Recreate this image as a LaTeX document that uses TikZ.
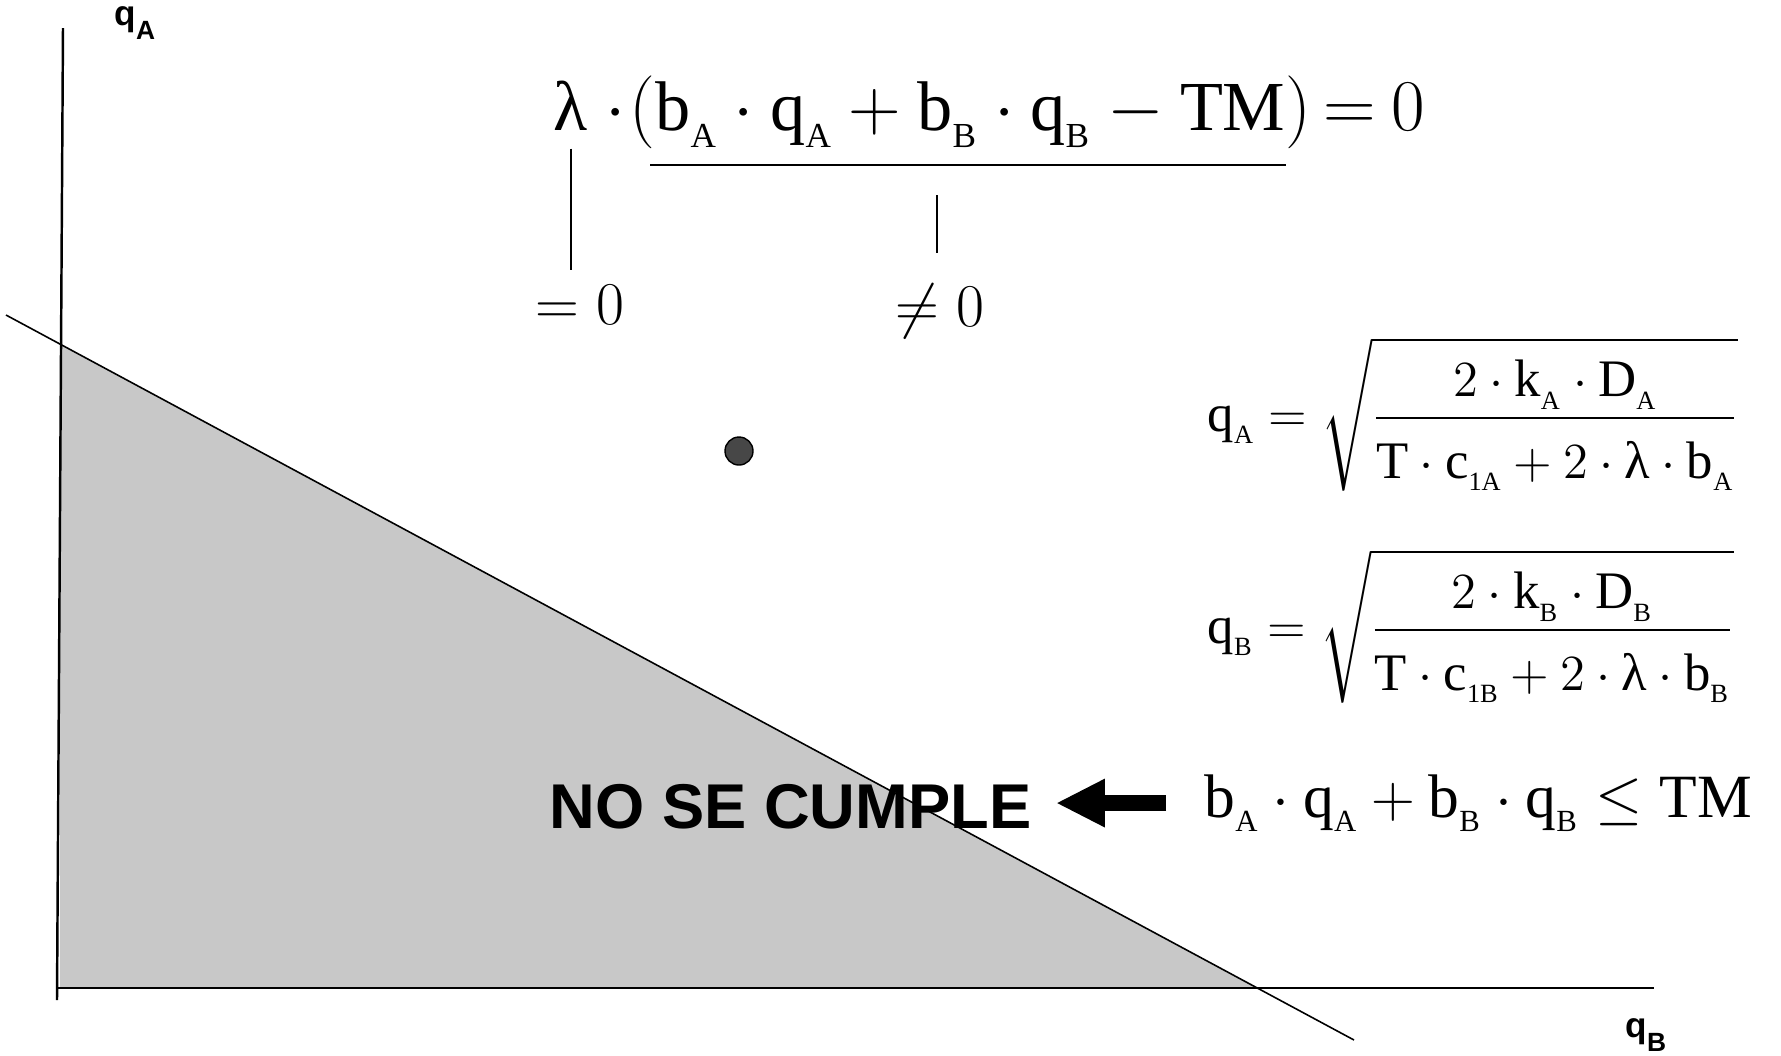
\documentclass[tikz,border=0pt]{standalone}
\usepackage{amsmath}
\usepackage{fontspec}
\setmainfont{Liberation Serif}
\newfontfamily\labelfont{Liberation Sans}
\usepackage{tikz}
\usetikzlibrary{arrows.meta,positioning}
\definecolor{feasgray}{RGB}{200,200,200}
\newcommand{\sbx}[1]{_{\lower0.09em\hbox{$\scriptscriptstyle\mathrm{#1}$}}}
\newcommand{\lam}{\mbox{λ}}
\newcommand{\axlab}[2]{#1\raisebox{-0.14cm}{\fontsize{7.5}{9}\selectfont #2}}
\tikzset{
  axisline/.style={line width=0.7pt, black},
  budget/.style  ={line width=0.45pt, black},
  feasible/.style={fill=feasgray},
  tickline/.style={line width=0.45pt, black},
  underln/.style ={line width=0.6pt, black},
  eqn/.style     ={inner sep=0pt, anchor=base west},
  axislab/.style ={inner sep=0pt, anchor=base west, font=\labelfont\bfseries\fontsize{10}{12}\selectfont},
  warnlab/.style ={inner sep=0pt, anchor=base west, font=\labelfont\bfseries\fontsize{18}{22}\selectfont},
  optdot/.style  ={circle, draw=black, fill=black!72, minimum size=0.28cm, inner sep=0pt},
  bigarrow/.style={-{Triangle[length=0.49cm, width=0.45cm]}, line width=0.16cm},
}
\begin{document}
\begin{tikzpicture}
    \path[use as bounding box] (0,0) rectangle (17.81,-10.55);
    \fill[feasible] (0.60,-3.44) -- (0.60,-9.88) -- (12.57,-9.88) -- cycle;
    \coordinate (yTop) at (0.63,-0.28);
    \coordinate (yBot) at (0.57,-10.00);
    \coordinate (xLeft) at (0.57,-9.88);
    \coordinate (xRight) at (16.54,-9.88);
    \coordinate (tmA) at (0.06,-3.15);
    \coordinate (tmB) at (13.54,-10.40);
    \draw[axisline] (yTop) -- (yBot);
    \draw[axisline] (xLeft) -- (xRight);
    \draw[budget] (tmA) -- (tmB);
    \node[axislab] (qAlab) at (1.14,-0.25) {\axlab{q}{A}};
    \node[axislab] (qBlab) at (16.25,-10.37) {\axlab{q}{B}};
    \node[optdot] (opt) at (7.39,-4.51) {};

    \node[eqn, font=\fontsize{20}{24}\selectfont] (lam) at (5.53,-1.30) {$\lam$};
    \node[eqn, font=\fontsize{20}{24}\selectfont] (slack) at (lam.base east)
        {$\mkern4mu{\cdot}\mkern1mu(\mathrm{b}\sbx{A}\cdot\mathrm{q}\sbx{A}+\mathrm{b}\sbx{B}\cdot\mathrm{q}\sbx{B}-\mathrm{TM})\mkern-2mu=\mkern-1mu0$};
    \coordinate (ulL) at (6.50,-1.65);
    \coordinate (ulR) at (12.86,-1.65);
    \draw[underln] (ulL) -- (ulR);
    \node[eqn, anchor=base, font=\fontsize{17}{20}\selectfont] (eqz) at (5.80,-3.24) {$=0$};
    \node[eqn, anchor=base, font=\fontsize{17}{20}\selectfont] (neq) at (9.40,-3.26) {$\neq 0$};
    \coordinate (tkN) at (9.37,-1.95);
    \draw[tickline, shorten <=0.18cm, shorten >=0.14cm] (lam.south) -- (lam.south |- eqz.north);
    \draw[tickline, shorten >=0.30cm] (tkN) -- (tkN |- neq.north);

    \node[eqn, font=\fontsize{15}{18}\selectfont] (qAeq) at (12.07,-4.31)
        {$\mathrm{q}\sbx{A}=\sqrt{\dfrac{\rule{0pt}{1.0em}2\cdot\mathrm{k}\sbx{A}\cdot\mathrm{D}\sbx{A}}{\rule{0pt}{1.0em}\mathrm{T}\cdot\mathrm{c}\sbx{1A}+2\cdot\lam\cdot\mathrm{b}\sbx{A}}}$};
    \node[eqn, font=\fontsize{15}{18}\selectfont] (qBeq) at (12.07,-6.43)
        {$\mathrm{q}\sbx{B}=\sqrt{\dfrac{\rule{0pt}{1.0em}2\cdot\mathrm{k}\sbx{B}\cdot\mathrm{D}\sbx{B}}{\rule{0pt}{1.0em}\mathrm{T}\cdot\mathrm{c}\sbx{1B}+2\cdot\lam\cdot\mathrm{b}\sbx{B}}}$};

    \node[eqn, font=\fontsize{17.5}{21}\selectfont] (ineq) at (12.04,-8.17)
        {$\mathrm{b}\sbx{A}\cdot\mathrm{q}\sbx{A}+\mathrm{b}\sbx{B}\cdot\mathrm{q}\sbx{B}\le\mathrm{TM}$};
    \node[warnlab] (nosc) at (5.49,-8.28) {NO SE CUMPLE};
    \draw[bigarrow, shorten <=0.38cm, shorten >=0.24cm] (ineq.west) -- (ineq.west -| nosc.east);
\end{tikzpicture}
\end{document}
